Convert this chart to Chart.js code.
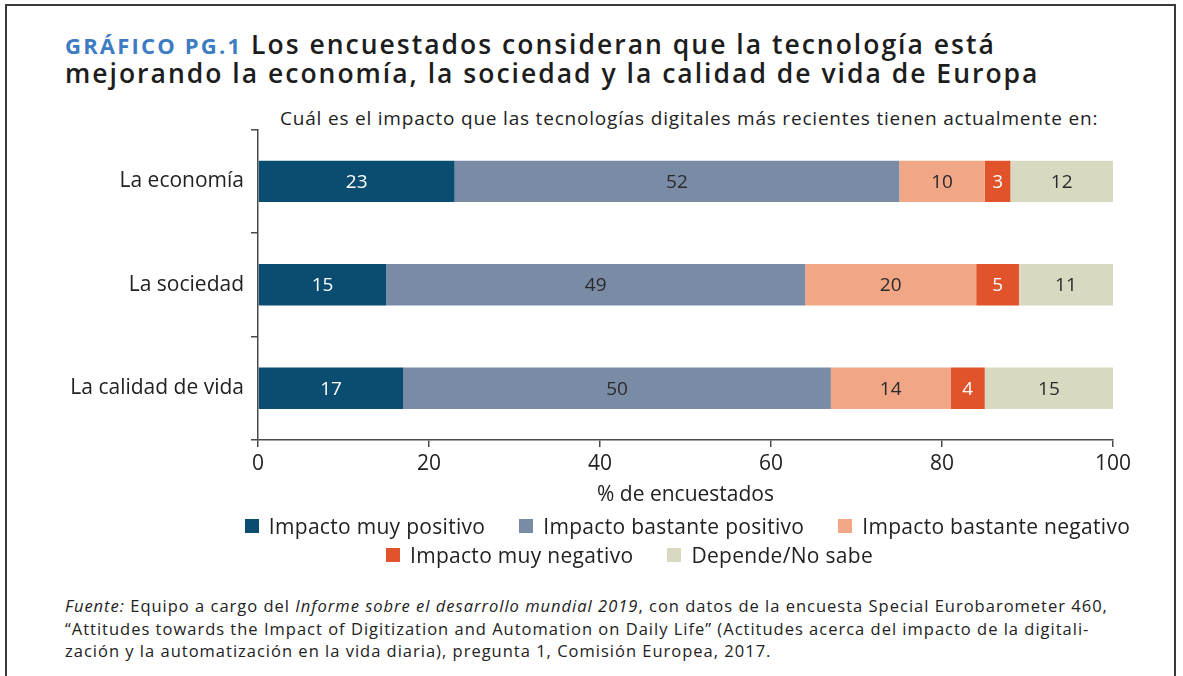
<!DOCTYPE html>
<html lang="es">
<head>
<meta charset="utf-8">
<script src="https://cdn.jsdelivr.net/npm/chart.js@4"></script>
<style>
  html, body { margin: 0; padding: 0; background: #fff; }
  body { width: 1183px; height: 676px; position: relative; overflow: hidden; font-family: "Open Sans", sans-serif; color: #222; }
  .frame { position: absolute; left: 5px; top: 4px; width: 1171px; height: 690px; border: 2px solid #3a3a3a; box-sizing: border-box; }
  .title { position: absolute; left: 65px; top: 30px; font-size: 26.5px; font-weight: 600; line-height: 28px; color: #1d1d1d; letter-spacing: 2px; white-space: nowrap; }
  .title .tag { color: #3d7cc2; font-size: 22px; font-weight: 700; letter-spacing: 2.2px; }
  .subtitle { position: absolute; left: 280px; top: 105px; font-size: 19px; letter-spacing: 0.8px; color: #222; white-space: nowrap; }
  .chart-box { position: absolute; left: 0; top: 110px; width: 1183px; height: 410px; }
  .legend-row { position: absolute; width: 1183px; display: flex; justify-content: center; font-size: 21px; letter-spacing: 0.3px; color: #222; white-space: nowrap; }
  .legend-item { display: flex; align-items: center; margin: 0 17px; }
  .legend-item i { width: 14px; height: 14px; margin-right: 10px; display: inline-block; }
  .footer { position: absolute; left: 65px; top: 595px; font-size: 16.5px; letter-spacing: 1px; line-height: 22.5px; color: #222; white-space: nowrap; }
</style>
</head>
<body>
<div class="frame"></div>
<div class="title"><span class="tag">GRÁFICO PG.1</span> Los encuestados consideran que la tecnología está<br>mejorando la economía, la sociedad y la calidad de vida de Europa</div>
<div class="subtitle">Cuál es el impacto que las tecnologías digitales más recientes tienen actualmente en:</div>
<div class="chart-box"><canvas id="chart"></canvas></div>
<div class="legend-row" id="legend1" style="top: 512px; left: 96px;"></div>
<div class="legend-row" id="legend2" style="top: 541px; left: 38px;"></div>
<div class="footer"><i>Fuente:</i> Equipo a cargo del <i>Informe sobre el desarrollo mundial 2019</i>, con datos de la encuesta Special Eurobarometer 460,<br>“Attitudes towards the Impact of Digitization and Automation on Daily Life” (Actitudes acerca del impacto de la digitali-<br>zación y la automatización en la vida diaria), pregunta 1, Comisión Europea, 2017.</div>
<script>
const categories = ["La economía", "La sociedad", "La calidad de vida"];
const seriesNames = ["Impacto muy positivo", "Impacto bastante positivo", "Impacto bastante negativo", "Impacto muy negativo", "Depende/No sabe"];
const muyPositivo = [23, 15, 17];
const bastantePositivo = [52, 49, 50];
const bastanteNegativo = [10, 20, 14];
const muyNegativo = [3, 5, 4];
const depende = [12, 11, 15];
const xTicks = [0, 20, 40, 60, 80, 100];

const colors = ["#0b4c71", "#7a8ba6", "#f1a685", "#e1532b", "#d9d8c1"];
const labelColors = ["#ffffff", "#2a2a2a", "#2a2a2a", "#ffffff", "#2a2a2a"];
const axisColor = "#4a4a4a";
const fontFamily = "'Open Sans', sans-serif";

const values = [muyPositivo, bastantePositivo, bastanteNegativo, muyNegativo, depende];

const barLabels = {
  id: "barLabels",
  afterDatasetsDraw(chart) {
    const ctx = chart.ctx;
    ctx.save();
    ctx.font = "19px " + fontFamily;
    ctx.textAlign = "center";
    ctx.textBaseline = "middle";
    chart.data.datasets.forEach((ds, i) => {
      chart.getDatasetMeta(i).data.forEach((bar, j) => {
        const { x, y, base } = bar.getProps(["x", "y", "base"], true);
        ctx.fillStyle = labelColors[i];
        ctx.fillText(String(ds.data[j]), (x + base) / 2, y + 1);
      });
    });
    ctx.restore();
  }
};

new Chart(document.getElementById("chart"), {
  type: "bar",
  plugins: [barLabels],
  data: {
    labels: categories,
    datasets: seriesNames.map((name, i) => ({
      label: name,
      data: values[i],
      backgroundColor: colors[i],
      borderWidth: 0,
      categoryPercentage: 1,
      barPercentage: 0.4
    }))
  },
  options: {
    indexAxis: "y",
    responsive: true,
    maintainAspectRatio: false,
    animation: false,
    layout: { padding: { top: 18, right: 70, left: 0, bottom: 0 } },
    plugins: {
      legend: { display: false },
      tooltip: { enabled: false }
    },
    scales: {
      x: {
        stacked: true,
        min: 0,
        max: 100,
        afterBuildTicks(scale) {
          scale.ticks = xTicks.map((v) => ({ value: v }));
        },
        afterFit(scale) { scale.height = 80; },
        grid: { drawOnChartArea: false, drawTicks: true, tickLength: 7, color: axisColor, lineWidth: 1.5 },
        border: { color: axisColor, width: 1.5 },
        ticks: { color: "#222", padding: 4, font: { family: fontFamily, size: 21 } },
        title: {
          display: true,
          text: "% de encuestados",
          color: "#222",
          font: { family: fontFamily, size: 21 },
          padding: { top: 0, bottom: 12 }
        }
      },
      y: {
        stacked: true,
        afterFit(scale) { scale.width = 258; },
        grid: { drawOnChartArea: false, drawTicks: true, tickLength: 7, color: axisColor, lineWidth: 1.5 },
        border: { color: axisColor, width: 1.5 },
        ticks: { color: "#222", padding: 7, font: { family: fontFamily, size: 21 } }
      }
    }
  }
});

// legend built from the series arrays, split over two rows like the original
const rows = [[0, 1, 2], [3, 4]];
["legend1", "legend2"].forEach((id, r) => {
  const el = document.getElementById(id);
  el.innerHTML = rows[r].map((i) => `<span class="legend-item"><i style="background:${colors[i]}"></i>${seriesNames[i]}</span>`).join("");
});
</script>
</body>
</html>
